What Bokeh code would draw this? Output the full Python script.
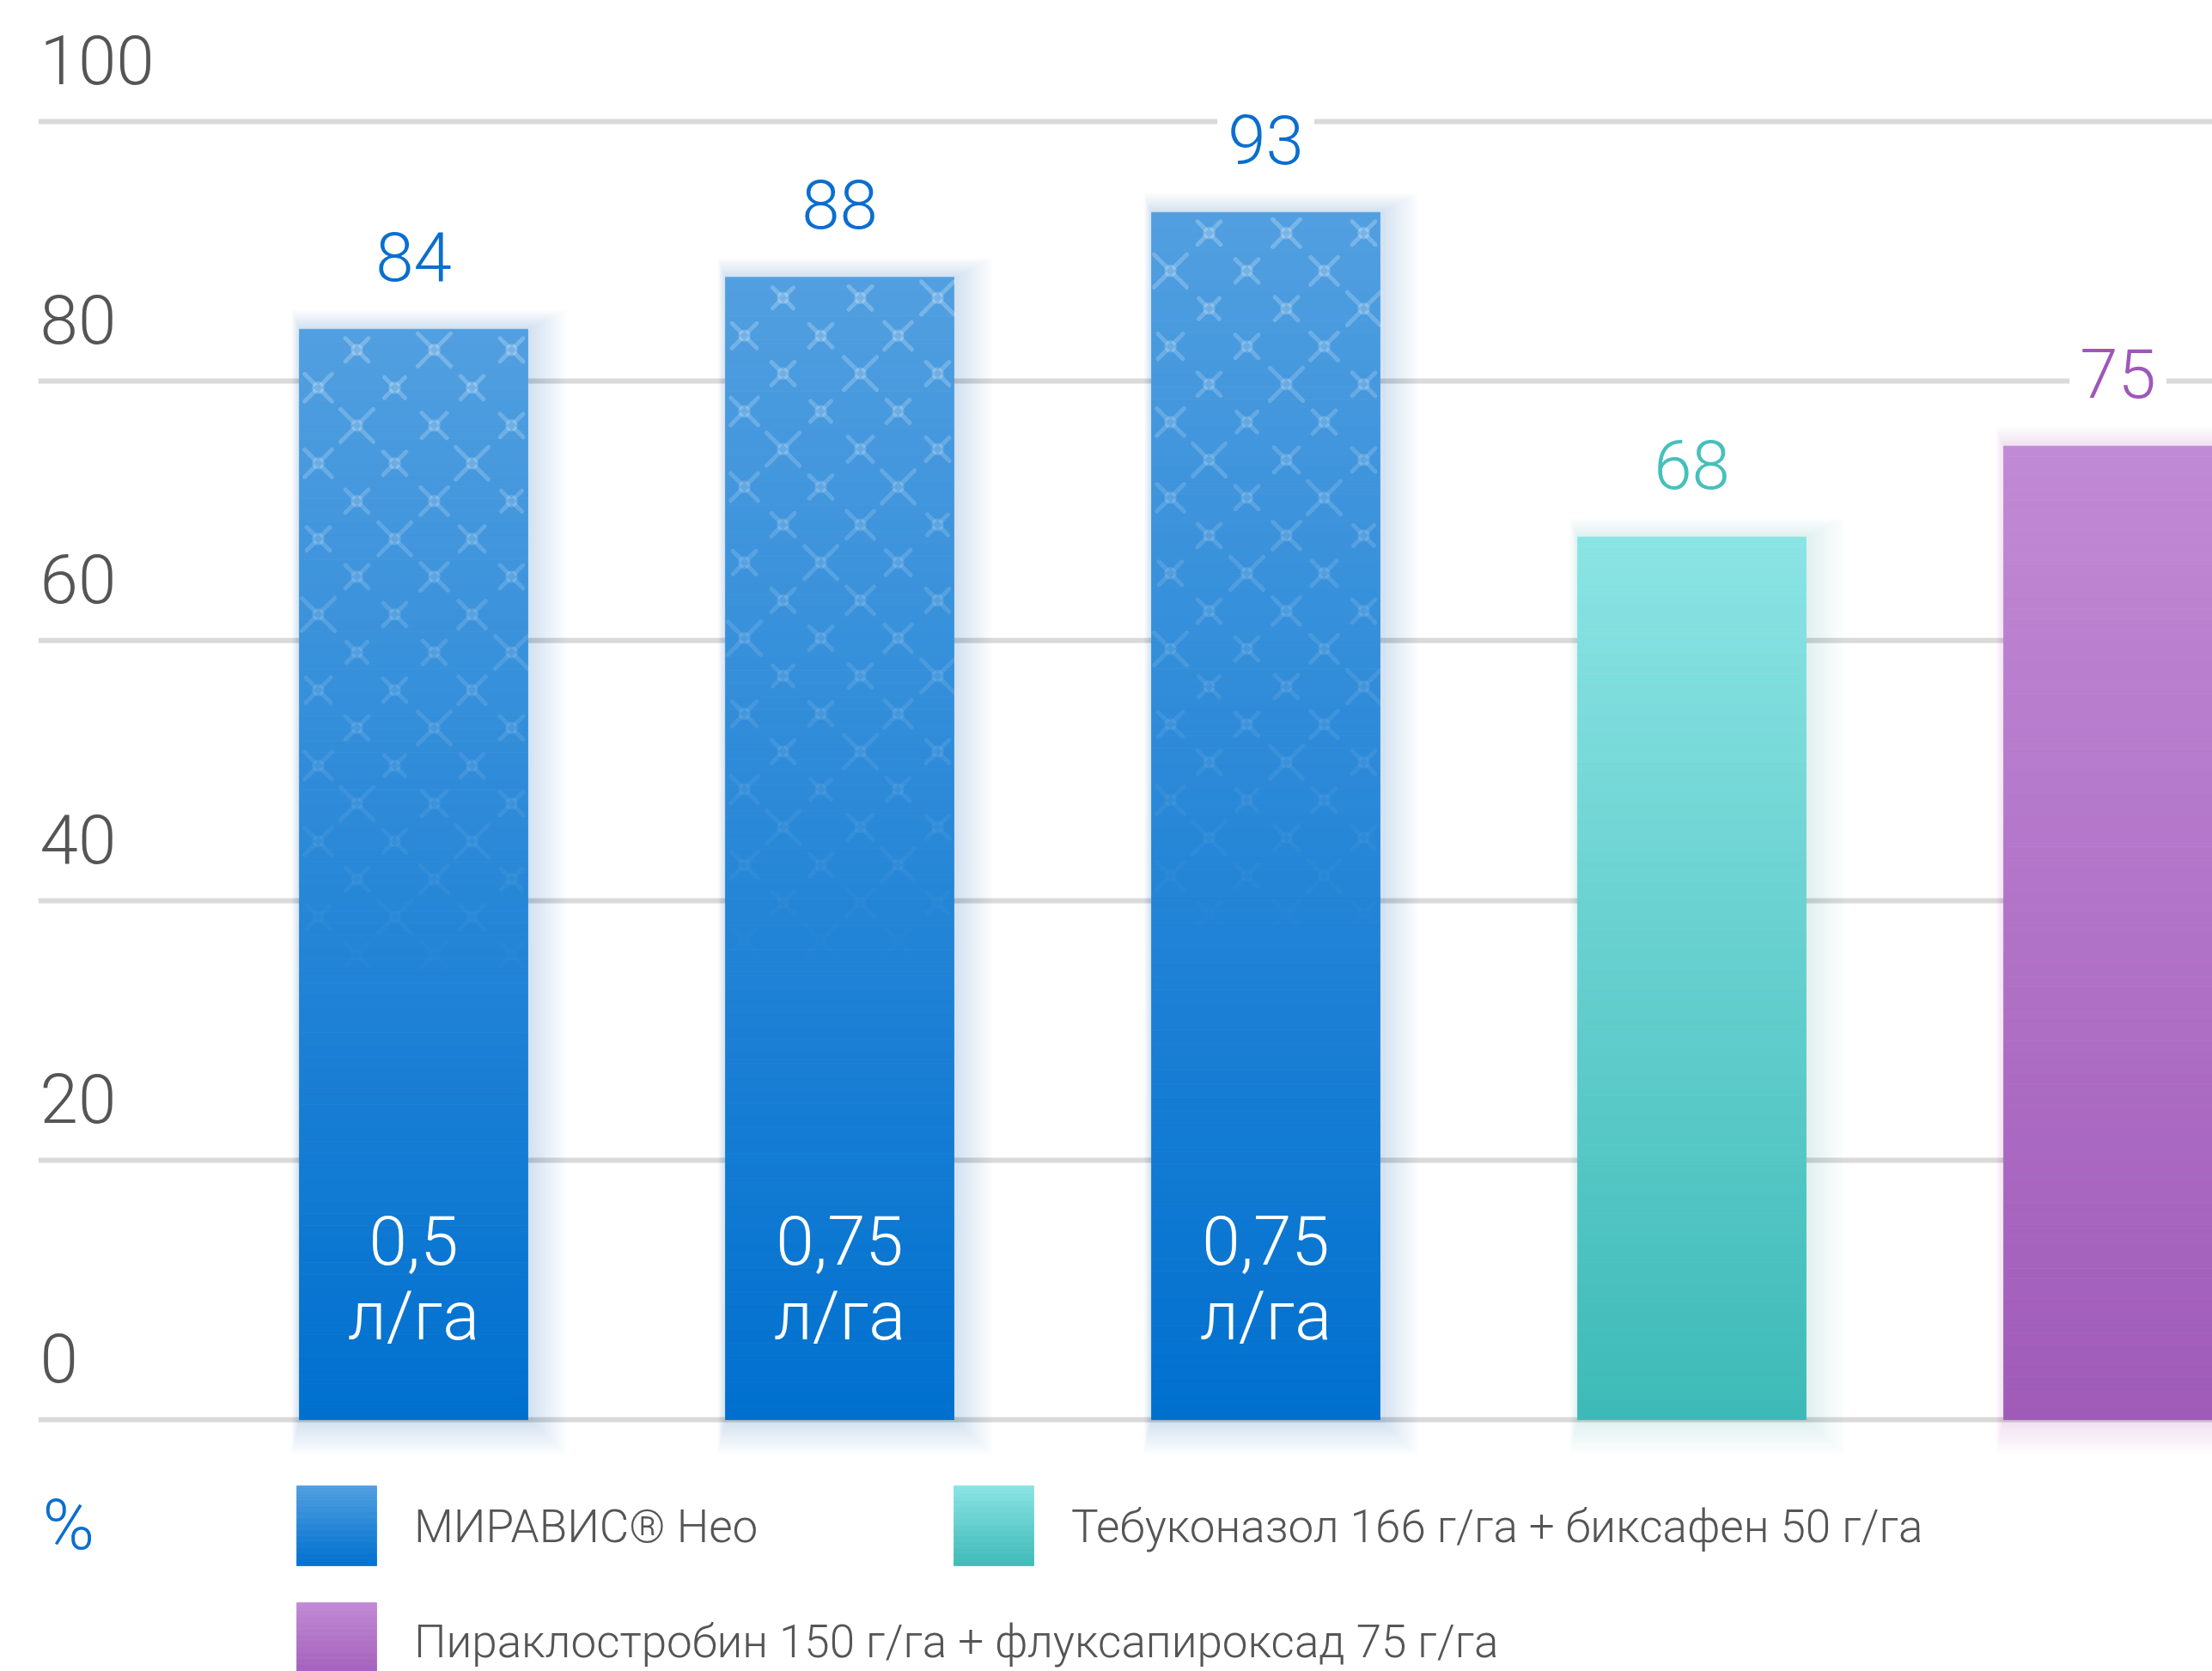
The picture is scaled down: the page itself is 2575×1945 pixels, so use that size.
import numpy as np
from bokeh.plotting import figure
from bokeh.models import ColumnDataSource, Grid, FixedTicker, Legend, LegendItem, Range1d
from bokeh.core.properties import value
from bokeh.embed import file_html
from bokeh.resources import INLINE

# ---------------- data ----------------
bar_groups = ["МИРАВИС® Нео", "МИРАВИС® Нео", "МИРАВИС® Нео",
              "Тебуконазол 166 г/га + биксафен 50 г/га",
              "Пираклостробин 150 г/га + флуксапироксад 75 г/га"]
efficacy = [84, 88, 93, 68, 75]
doses = ["0,5", "0,75", "0,75"]
dose_unit = ["л/га", "л/га", "л/га"]
y_ticks = [0, 20, 40, 60, 80, 100]
y_tick_labels = ["0", "20", "40", "60", "80", "100"]
legend_labels = ["МИРАВИС® Нео",
                 "Тебуконазол 166 г/га + биксафен 50 г/га",
                 "Пираклостробин 150 г/га + флуксапироксад 75 г/га"]
unit_label = "%"

# ---------------- styles / layout ----------------
W, H = 2575, 1945
FONT = "Roboto Light"
PX_X = 496.0          # pixels per bar slot
PX_Y = 15.11          # pixels per percent
ZERO_PX = 1652        # page y of the 0 line
FRAME_LEFT = 44
x_start = (FRAME_LEFT - 481) / PX_X
x_end = x_start + (W - FRAME_LEFT) / PX_X
y_start = -(H - ZERO_PX) / PX_Y
y_end = y_start + H / PX_Y
BAR_W = 266 / PX_X
TXT_FIX = -32         # baseline correction for text glyphs

top_cols = ["#519fe0", "#519fe0", "#519fe0", "#8be4e4", "#c18ad5"]
bot_cols = ["#0070cf", "#0070cf", "#0070cf", "#3dbab7", "#a05bb9"]
mid_cols = ["#2a87d8", "#2a87d8", "#2a87d8", "#64cfcd", "#b073c7"]
shadow_cols = ["#1f6fc0", "#1f6fc0", "#1f6fc0", "#3aa9a6", "#9a5ab3"]
label_cols = ["#0a6fce", "#0a6fce", "#0a6fce", "#46c0bc", "#9e58b8"]
GRAY = "#555555"
GRID_COL = "#dadada"


def hex2rgb(h):
    h = h.lstrip("#")
    return np.array([int(h[i:i + 2], 16) for i in (0, 2, 4)], dtype=float)


def rgb2hex(c):
    return "#%02x%02x%02x" % tuple(int(round(v)) for v in c)


def px2x(px):
    return x_start + (px - FRAME_LEFT) / PX_X


def px2y(py):
    return (ZERO_PX - py) / PX_Y


xs = list(range(len(efficacy)))

p = figure(width=W, height=H, x_range=Range1d(x_start, x_end), y_range=Range1d(y_start, y_end),
           output_backend="svg", toolbar_location=None,
           x_axis_location=None, y_axis_location=None,
           min_border_left=FRAME_LEFT, min_border_right=0, min_border_top=0, min_border_bottom=0,
           outline_line_color=None, background_fill_color="white", border_fill_color="white")
for g in list(p.grid):
    g.visible = False

grid = Grid(dimension=1, ticker=FixedTicker(ticks=y_ticks),
            grid_line_color=GRID_COL, grid_line_width=6)
p.add_layout(grid)

# ---- soft shadows ----
sh = dict(left=[], right=[], top=[], bottom=[], color=[])
for i, v in enumerate(efficacy):
    for m in range(3, 48, 3):
        sh["left"].append(i - BAR_W / 2 - 0.2 * m / PX_X)
        sh["right"].append(i + BAR_W / 2 + m / PX_X)
        sh["top"].append(v + 0.5 * m / PX_Y)
        sh["bottom"].append(-(0.9 * m) / PX_Y)
        sh["color"].append(shadow_cols[i])
p.quad(left="left", right="right", top="top", bottom="bottom", source=ColumnDataSource(sh),
       fill_color="color", fill_alpha=0.010, line_color=None)

# ---- gradient legend swatches (drawn as glyphs; legend swatches themselves are transparent) ----
swatches = [(345, 1729, 0), (1110, 1729, 3), (345, 1865, 4)]   # page px (left, top), series colour index
SW = 93
NS = 40
lq = dict(left=[], right=[], top=[], bottom=[], color=[])
for lx, ty, ci in swatches:
    c_top, c_bot = hex2rgb(top_cols[ci]), hex2rgb(bot_cols[ci])
    for k in range(NS):
        t = (k + 0.5) / NS
        lq["left"].append(px2x(lx))
        lq["right"].append(px2x(lx + SW))
        lq["top"].append(px2y(ty + SW * k / NS))
        lq["bottom"].append(px2y(ty + SW * (k + 1) / NS))
        lq["color"].append(rgb2hex(c_top + (c_bot - c_top) * t))
p.quad(left="left", right="right", top="top", bottom="bottom", source=ColumnDataSource(lq),
       fill_color="color", line_color="color", line_width=0.8)

# ---- base bars (fully covered by the gradient; referenced by the legend) ----
base_src = ColumnDataSource(dict(x=xs, top=efficacy, color=mid_cols, group=bar_groups))
base_r = p.vbar(x="x", top="top", bottom=0, width=BAR_W, source=base_src,
                fill_color="color", fill_alpha=0, line_color=None)

# ---- gradient slices ----
N = 90
gs = dict(x=[], bottom=[], top=[], color=[])
for i, v in enumerate(efficacy):
    c0, c1 = hex2rgb(bot_cols[i]), hex2rgb(top_cols[i])
    for k in range(N):
        t = (k + 0.5) / N
        gs["x"].append(i)
        gs["bottom"].append(v * k / N)
        gs["top"].append(v * (k + 1) / N)
        gs["color"].append(rgb2hex(c0 + (c1 - c0) * t))
p.vbar(x="x", top="top", bottom="bottom", width=BAR_W, source=ColumnDataSource(gs),
       fill_color="color", line_color="color", line_width=0.8)

# ---- decorative X pattern on the МИРАВИС bars ----
size_seq = [38, 54, 38, 45, 34, 38, 54, 41, 38, 45]
pt = dict(x=[], y=[], size=[], alpha=[])
for i, v in enumerate(efficacy[:3]):
    bar_px = v * PX_Y
    r = 0
    while True:
        off_y = 24 + 44 * r
        frac = off_y / bar_px
        if frac > 0.61:
            break
        offs = [67, 157, 247] if r % 2 == 0 else [22, 111, 201]
        for c, ox in enumerate(offs):
            pt["x"].append(i - BAR_W / 2 + ox / PX_X)
            pt["y"].append(v - off_y / PX_Y)
            pt["size"].append(size_seq[(r * 3 + c + i * 4) % len(size_seq)])
            pt["alpha"].append(max(0.0, 0.24 * (1 - frac / 0.61)))
        r += 1
pts = ColumnDataSource(pt)
p.scatter(x="x", y="y", size="size", marker="x", source=pts, line_color="white",
          line_alpha="alpha", line_width=5, line_cap="round")
p.scatter(x="x", y="y", size=11, marker="circle", source=pts, fill_color=None,
          line_color="white", line_alpha="alpha", line_width=3.5)

# ---- y tick labels ----
p.text(x=[x_start] * len(y_ticks), y=y_ticks, text=y_tick_labels, x_offset=2, y_offset=-40 + TXT_FIX,
       text_font=value(FONT), text_font_size="80px", text_color=GRAY,
       text_align="left", text_baseline="alphabetic")

# ---- value labels ----
p.text(x=xs, y=efficacy, text=[str(v) for v in efficacy], y_offset=-53 + TXT_FIX,
       text_font=value(FONT), text_font_size="80px", text_color=label_cols,
       text_align="center", text_baseline="alphabetic",
       background_fill_color="white", padding=12)

# ---- dose labels inside bars ----
p.text(x=xs[:3], y=[0] * 3, text=doses, y_offset=-177 + TXT_FIX,
       text_font=value(FONT), text_font_size="80px", text_color="white",
       text_align="center", text_baseline="alphabetic")
p.text(x=xs[:3], y=[0] * 3, text=dose_unit, y_offset=-89 + TXT_FIX,
       text_font=value(FONT), text_font_size="80px", text_color="white",
       text_align="center", text_baseline="alphabetic")

# ---- unit label ----
p.text(x=[x_start], y=[0], text=[unit_label], x_offset=5, y_offset=154 + TXT_FIX,
       text_font=value(FONT), text_font_size="82px", text_color=label_cols[0],
       text_align="left", text_baseline="alphabetic")

# ---- legend ----
leg_style = dict(orientation="horizontal", glyph_width=116, glyph_height=116, label_standoff=33,
                 spacing=0, padding=0, margin=0, border_line_color=None, background_fill_alpha=0,
                 label_text_font=FONT, label_text_font_size="53px", label_text_color=GRAY)
leg1 = Legend(items=[LegendItem(label=legend_labels[0], renderers=[base_r], index=0),
                     LegendItem(label=legend_labels[1], renderers=[base_r], index=3)],
              location=(289, 110), label_width=616, **leg_style)
leg2 = Legend(items=[LegendItem(label=legend_labels[2], renderers=[base_r], index=4)],
              location=(289, -24), **leg_style)
p.add_layout(leg1)
p.add_layout(leg2)

open("out.html", "w").write(file_html(p, INLINE))
